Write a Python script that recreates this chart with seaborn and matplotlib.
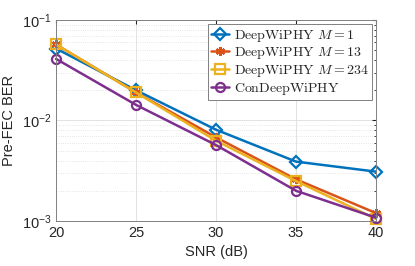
import matplotlib
matplotlib.use("Agg")
import matplotlib.pyplot as plt
import seaborn as sns
import pandas as pd

# SNR-Punkte und BER-Werte
snr = [20, 25, 30, 35, 40]
ber_m1 = [0.052, 0.020, 0.0081, 0.0039, 0.0031]
ber_m13 = [0.057, 0.019, 0.0068, 0.0026, 0.0012]
ber_m234 = [0.057, 0.019, 0.0063, 0.0025, 0.00105]
ber_con = [0.041, 0.0143, 0.0057, 0.0020, 0.00108]

labels = [r'$\mathrm{DeepWiPHY}\ M=1$', r'$\mathrm{DeepWiPHY}\ M=13$',
          r'$\mathrm{DeepWiPHY}\ M=234$', r'$\mathrm{ConDeepWiPHY}$']
colors = ['#0072BD', '#D95319', '#EDB120', '#7E2F8E']
markers = ['D', (6, 2, 0), 's', 'o']

rows = []
for lab, vals in zip(labels, [ber_m1, ber_m13, ber_m234, ber_con]):
    for s, v in zip(snr, vals):
        rows.append({'snr': s, 'ber': v, 'model': lab})
df = pd.DataFrame(rows)

sns.set_style("white")
plt.rcParams['mathtext.fontset'] = 'cm'
plt.rcParams['font.family'] = ['Liberation Sans', 'DejaVu Sans']

fig = plt.figure(figsize=(4.15, 2.66), dpi=100)
ax = fig.add_axes([0.135, 0.169, 0.771, 0.756])

sns.lineplot(data=df, x='snr', y='ber', hue='model', style='model',
             hue_order=labels, style_order=labels, palette=colors,
             markers=True, dashes=False, linewidth=1.8, legend=False,
             ax=ax)

# Marker wie in MATLAB: hohl, Randfarbe = Linienfarbe
for line, c, m in zip(ax.lines, colors, markers):
    line.set_marker(m)
    line.set_markersize(6.5)
    line.set_markerfacecolor('none')
    line.set_markeredgecolor(c)
    line.set_markeredgewidth(1.6)
    line.set_clip_on(False)

ax.set_yscale('log')
ax.set_xlim(20, 40)
ax.set_ylim(1e-3, 1e-1)
ax.set_xticks(snr)
ax.set_xlabel('SNR (dB)', fontsize=10.5, color='#262626')
ax.set_ylabel('Pre-FEC BER', fontsize=10.5, color='#262626')
ax.tick_params(which='both', direction='in', labelsize=10.5, colors='#262626',
               top=True, right=True)
ax.tick_params(which='major', length=3)
ax.tick_params(which='minor', length=1.5)
ax.grid(True, which='major', color='#dddddd', linewidth=0.6)
ax.grid(True, which='minor', color='#dddddd', linestyle=':', linewidth=0.6)
for sp in ax.spines.values():
    sp.set_color('#808080')
    sp.set_linewidth(0.7)

leg = ax.legend(ax.lines[:4], labels, loc='upper right', fontsize=10,
                handlelength=1.3, handletextpad=0.3, borderpad=0.25,
                labelspacing=0.12, fancybox=False, framealpha=1,
                edgecolor='#808080', borderaxespad=0.3)
leg.get_frame().set_linewidth(0.7)

fig.savefig('out.png', dpi=100)
